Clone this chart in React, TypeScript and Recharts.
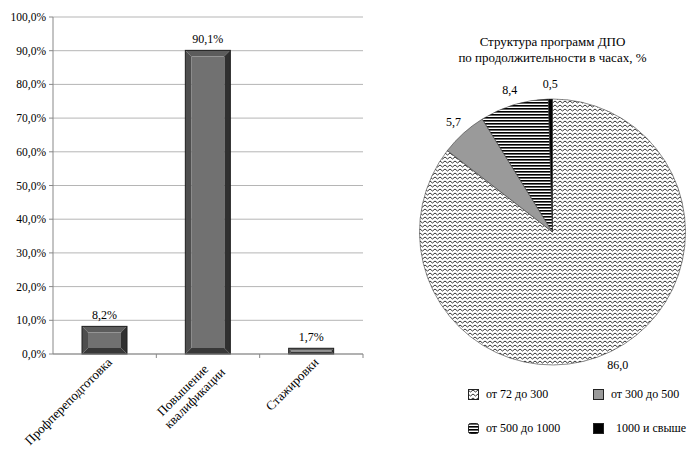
import React from 'react';
import {
  BarChart,
  Bar,
  XAxis,
  YAxis,
  CartesianGrid,
  LabelList,
  PieChart,
  Pie,
  Cell,
  Legend,
} from 'recharts';

const categories = ['Профпереподготовка', 'Повышение\nквалификации', 'Стажировки'];
const shares = [8.2, 90.1, 1.7];
const yTicks = [0, 10, 20, 30, 40, 50, 60, 70, 80, 90, 100];

const durationLabels = ['от 72 до 300', 'от 300 до 500', 'от 500 до 1000', '1000 и свыше'];
const durationShares = [86.0, 5.7, 8.4, 0.5];
const durationFills = ['url(#wave)', '#9a9a9a', 'url(#hstripes)', '#000000'];

// no serif face in the sandbox, so use the Arial-metric one
const FONT = '"Liberation Serif", "Liberation Sans", Arial, sans-serif';

const barData = categories.map((name, i) => ({ name, share: shares[i] }));
const pieData = durationLabels.map((name, i) => ({ name, value: durationShares[i] }));

const fmtPct = (v: number) => `${v.toFixed(1).replace('.', ',')}%`;
const fmtNum = (v: number) => v.toFixed(1).replace('.', ',');

function BevelBar(props: any) {
  const { x, y, width: w, height: h } = props;
  if (!h || h <= 0) return null;
  const b = Math.min(6, w / 4, h / 2.5);
  return (
    <g>
      <polygon points={`${x},${y} ${x + w},${y} ${x + w - b},${y + b} ${x + b},${y + b}`} fill="#5c5c5c" />
      <polygon points={`${x},${y} ${x + b},${y + b} ${x + b},${y + h - b} ${x},${y + h}`} fill="#4e4e4e" />
      <polygon points={`${x + w},${y} ${x + w},${y + h} ${x + w - b},${y + h - b} ${x + w - b},${y + b}`} fill="#303030" />
      <polygon points={`${x},${y + h} ${x + b},${y + h - b} ${x + w - b},${y + h - b} ${x + w},${y + h}`} fill="#383838" />
      <rect x={x + b} y={y + b} width={Math.max(0, w - 2 * b)} height={Math.max(0, h - 2 * b)} fill="#717171" />
      <rect x={x} y={y} width={w} height={h} fill="none" stroke="#1e1e1e" strokeWidth={1} />
    </g>
  );
}

function CategoryTick(props: any) {
  const { x, y, payload } = props;
  const lines: string[] = String(payload.value).split('\n');
  const longest = Math.max(...lines.map((l) => l.length));
  const step = (363 - 53) / categories.length;
  return (
    <g>
      <line x1={x + step / 2} y1={y - 8} x2={x + step / 2} y2={y - 4} stroke="#888" />
      <g transform={`translate(${x + 1},${y - 6}) rotate(-45)`}>
        {lines.map((line, i) => (
          <text
            key={i}
            x={-((longest - line.length) * 6.5) / 2}
            y={10 + i * 14}
            textAnchor="end"
            fontSize={13}
            fontFamily={FONT}
            fill="#000"
          >
            {line}
          </text>
        ))}
      </g>
    </g>
  );
}

function PieLabel(props: any) {
  const { cx, cy, midAngle, outerRadius, value } = props;
  const RADIAN = Math.PI / 180;
  const r = outerRadius + 15;
  const x = cx + r * Math.cos(-midAngle * RADIAN);
  const y = cy + r * Math.sin(-midAngle * RADIAN);
  return (
    <text x={x} y={y} textAnchor="middle" dominantBaseline="central" fontSize={12} fontFamily={FONT} fill="#000">
      {fmtNum(value)}
    </text>
  );
}

function LegendIcon({ fill, rounded }: { fill: string; rounded?: boolean }) {
  return (
    <svg width={11} height={11} style={{ display: 'block' }}>
      <rect
        x={0.5}
        y={0.5}
        width={10}
        height={10}
        rx={rounded ? 2 : 0}
        fill={fill}
        stroke="#222"
        strokeWidth={1}
      />
    </svg>
  );
}

function DurationLegend() {
  const colX = [0, 125];
  const rowY = [0, 34];
  return (
    <div style={{ position: 'relative', width: 229, height: 50, fontFamily: FONT, fontSize: 12 }}>
      {pieData.map((d, i) => (
        <div
          key={d.name}
          style={{
            position: 'absolute',
            left: colX[i % 2],
            top: rowY[Math.floor(i / 2)],
            display: 'flex',
            alignItems: 'center',
            whiteSpace: 'nowrap',
            lineHeight: '16px',
          }}
        >
          <LegendIcon fill={durationFills[i]} rounded={i === 2} />
          <span style={{ marginLeft: i === 3 ? 12 : 7 }}>{d.name}</span>
        </div>
      ))}
    </div>
  );
}

export default function App() {
  return (
    <div
      style={{
        position: 'absolute',
        left: 0,
        top: 0,
        width: 697,
        height: 453,
        background: '#fff',
        fontFamily: FONT,
        overflow: 'hidden',
      }}
    >
      <svg width={0} height={0} style={{ position: 'absolute' }}>
        <defs>
          <pattern id="wave" width={5} height={4} patternUnits="userSpaceOnUse">
            <rect width={5} height={4} fill="#ffffff" />
            <path d="M0,1 L2.5,3 L5,1" fill="none" stroke="#333333" strokeWidth={1} />
          </pattern>
          <pattern id="hstripes" width={4} height={3} patternUnits="userSpaceOnUse">
            <rect width={4} height={3} fill="#ffffff" />
            <rect width={4} height={1.6} fill="#000000" />
          </pattern>
        </defs>
      </svg>

      <div style={{ position: 'absolute', left: 0, top: 0 }}>
        <BarChart width={372} height={453} data={barData} margin={{ top: 17, right: 9, bottom: 0, left: 0 }} barSize={45}>
          <CartesianGrid vertical={false} stroke="#b5b5b5" />
          <XAxis
            dataKey="name"
            height={99}
            interval={0}
            axisLine={{ stroke: '#888' }}
            tickLine={false}
            tick={<CategoryTick />}
          />
          <YAxis
            width={53}
            domain={[0, 100]}
            ticks={yTicks}
            tickFormatter={fmtPct}
            axisLine={{ stroke: '#888' }}
            tickLine={{ stroke: '#888' }}
            tickSize={4}
            tickMargin={3}
            tick={{ fill: '#000', fontSize: 11.5, fontFamily: FONT }}
          />
          <Bar dataKey="share" shape={<BevelBar />} isAnimationActive={false}>
            <LabelList
              dataKey="share"
              position="top"
              offset={7}
              formatter={(v: any) => fmtPct(Number(v))}
              style={{ fill: '#000', fontSize: 12, fontFamily: FONT }}
            />
          </Bar>
        </BarChart>
      </div>

      <div
        style={{
          position: 'absolute',
          left: 380,
          width: 345,
          top: 34,
          textAlign: 'center',
          fontSize: 13,
          lineHeight: '16px',
          color: '#000',
        }}
      >
        Структура программ ДПО
        <br />
        по продолжительности в часах, %
      </div>

      <div style={{ position: 'absolute', left: 380, top: 0 }}>
        <PieChart width={317} height={453} margin={{ top: 0, right: 0, bottom: 0, left: 0 }}>
          <Pie
            data={pieData}
            dataKey="value"
            nameKey="name"
            cx={172.5}
            cy={232}
            outerRadius={133}
            startAngle={90}
            endAngle={-270}
            stroke="#3a3a3a"
            strokeWidth={0.6}
            label={PieLabel}
            labelLine={false}
            isAnimationActive={false}
          >
            {pieData.map((d, i) => (
              <Cell key={d.name} fill={durationFills[i]} />
            ))}
          </Pie>
          <Legend content={<DurationLegend />} wrapperStyle={{ left: 88, top: 386, width: 229 }} />
        </PieChart>
      </div>
    </div>
  );
}
